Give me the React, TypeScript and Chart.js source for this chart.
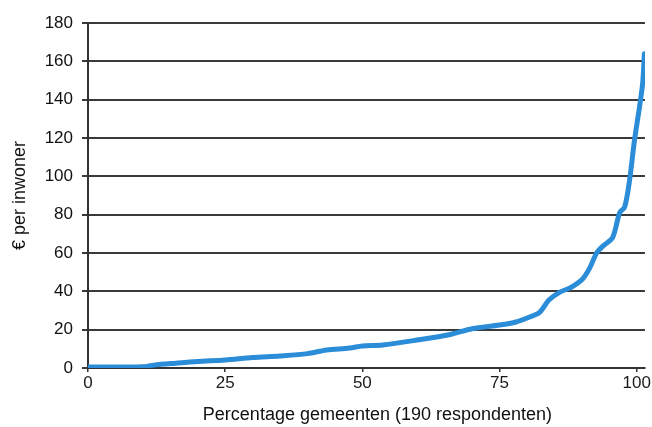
import React, { useEffect, useRef } from "react";
import { Chart, registerables } from "chart.js";

Chart.register(...registerables);

const percentGemeenten: number[] = [
  0, 4, 10, 12, 16, 20, 25, 30, 35, 40, 43.5, 47.7, 50, 53.7, 60, 66, 70, 75,
  78, 80.5, 82.3, 84, 86, 88, 90, 91.4, 92.7, 94, 95.6, 96.9, 97.8, 98.7, 99.6,
  100.5, 101.1, 101.4,
];
const euroPerInwoner: number[] = [
  0.5, 0.5, 0.6, 1.5, 2.5, 3.4, 4.2, 5.5, 6.3, 7.5, 9.4, 10.4, 11.5, 12, 14.6,
  17.5, 20.5, 22.4, 24, 26.6, 29, 35.5, 39.6, 42, 46, 52, 60, 64, 68, 81, 84,
  98, 119, 136, 149, 164,
];
const xTicks: number[] = [0, 25, 50, 75, 100];
const yTicks: number[] = [0, 20, 40, 60, 80, 100, 120, 140, 160, 180];

const xTitle = "Percentage gemeenten (190 respondenten)";
const yTitle = "€ per inwoner";

const FONT = "'Liberation Sans', Arial, sans-serif";

const xTitlePlugin = {
  id: "xTitlePlugin",
  afterDraw(chart: any) {
    const { ctx, chartArea } = chart;
    ctx.save();
    ctx.font = `18px ${FONT}`;
    ctx.fillStyle = "#111";
    ctx.textAlign = "center";
    ctx.textBaseline = "middle";
    ctx.fillText(xTitle, (chartArea.left + chartArea.right) / 2 + 11, chartArea.bottom + 47);
    ctx.restore();
  },
};

export default function App() {
  const ref = useRef<HTMLCanvasElement | null>(null);

  useEffect(() => {
    document.body.style.margin = "0";
    const canvas = ref.current;
    if (!canvas) return;
    const points = percentGemeenten.map((x, i) => ({ x, y: euroPerInwoner[i] }));
    const chart = new Chart(canvas, {
      type: "line",
      data: {
        datasets: [
          {
            data: points,
            borderColor: "#2b8cd8",
            borderWidth: 5,
            pointRadius: 0,
            tension: 0.3,
            borderCapStyle: "round",
            borderJoinStyle: "round",
            fill: false,
          },
        ],
      },
      plugins: [xTitlePlugin],
      options: {
        animation: false,
        responsive: false,
        maintainAspectRatio: false,
        layout: { padding: { top: 23, right: 7, left: 0, bottom: 0 } },
        plugins: { legend: { display: false }, tooltip: { enabled: false } },
        scales: {
          x: {
            type: "linear",
            min: 0,
            max: 101.5,
            afterFit: (s: any) => {
              s.height = 59;
            },
            afterBuildTicks: (s: any) => {
              s.ticks = xTicks.map((v) => ({ value: v }));
            },
            ticks: {
              color: "#1a1a1a",
              font: { family: FONT, size: 17 },
              padding: 1,
              maxRotation: 0,
              autoSkip: false,
            },
            grid: {
              display: true,
              drawOnChartArea: false,
              drawTicks: true,
              tickLength: 4,
              color: "#333",
              lineWidth: 1.5,
            },
            border: { display: true, color: "#333", width: 2 },
            title: { display: false },
          },
          y: {
            type: "linear",
            min: 0,
            max: 180,
            afterFit: (s: any) => {
              s.width = 88;
            },
            afterBuildTicks: (s: any) => {
              s.ticks = yTicks.map((v) => ({ value: v }));
            },
            ticks: {
              color: "#111",
              font: { family: FONT, size: 17 },
              padding: 9,
              autoSkip: false,
            },
            grid: {
              display: true,
              drawOnChartArea: true,
              drawTicks: true,
              tickLength: 6,
              color: "#3a3a3a",
              lineWidth: 2,
            },
            border: { display: true, color: "#333", width: 2 },
            title: {
              display: true,
              text: yTitle,
              color: "#111",
              font: { family: FONT, size: 18 },
              padding: { top: 9, bottom: 4 },
            },
          },
        },
      },
    });
    return () => chart.destroy();
  }, []);

  return (
    <div style={{ position: "absolute", left: 0, top: 0, width: 652, height: 427, background: "#fff" }}>
      <canvas ref={ref} width={652} height={427} style={{ width: 652, height: 427 }} />
    </div>
  );
}
